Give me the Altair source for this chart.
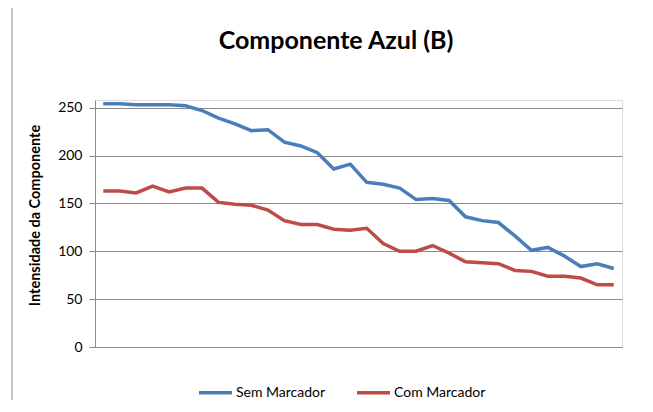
import altair as alt
import pandas as pd

chart_title = "Componente Azul (B)"
series_names = ["Sem Marcador", "Com Marcador"]
sem_marcador = [254, 254, 253, 253, 253, 252, 247, 239, 233, 226, 227, 214, 210, 203, 186, 191,
                172, 170, 166, 154, 155, 153, 136, 132, 130, 116, 101, 104, 95, 84, 87, 82]
com_marcador = [163, 163, 161, 168, 162, 166, 166, 151, 149, 148, 143, 132, 128, 128, 123, 122,
                124, 108, 100, 100, 106, 98, 89, 88, 87, 80, 79, 74, 74, 72, 65, 65]
y_ticks = [0, 50, 100, 150, 200, 250]
colors = ["#4a7ebb", "#be4b48"]

rows = []
for i, v in enumerate(sem_marcador):
    rows.append({"idx": i + 1, "valor": v, "serie": series_names[0]})
for i, v in enumerate(com_marcador):
    rows.append({"idx": i + 1, "valor": v, "serie": series_names[1]})
df = pd.DataFrame(rows)

FONT = "Lato"
n = len(sem_marcador)

lines = alt.Chart(df).mark_line(strokeWidth=3.5).encode(
    x=alt.X("idx:Q", scale=alt.Scale(domain=[0.5, n + 0.5], nice=False, zero=False),
            axis=alt.Axis(labels=False, ticks=False, grid=False, title=None,
                          domainColor="#8c8c8c", domainWidth=1)),
    y=alt.Y("valor:Q", scale=alt.Scale(domain=[0, 258], nice=False),
            axis=alt.Axis(values=y_ticks, title="Intensidade da Componente",
                          titleFont=FONT, titleFontSize=14.5, titleFontWeight="bold",
                          titleColor="#000000", titleX=-60, titleY=115,
                          titleAngle=-90, titleBaseline="middle",
                          labelFont=FONT, labelFontSize=14, labelColor="#000000",
                          labelPadding=7, tickSize=6, tickColor="#8c8c8c",
                          domainColor="#8c8c8c", gridColor="#8c8c8c", gridWidth=1)),
    color=alt.Color("serie:N", scale=alt.Scale(domain=series_names, range=colors),
                    sort=series_names,
                    legend=alt.Legend(title=None, orient="none", direction="horizontal",
                                      legendX=102, legendY=274,
                                      symbolType="stroke", symbolSize=1089,
                                      symbolStrokeWidth=3.5, labelFont=FONT,
                                      labelFontSize=14, labelColor="#000000",
                                      labelOffset=2, columnPadding=24, padding=0)),
    order=alt.Order("idx:Q"),
)

title_text = alt.Chart(pd.DataFrame({"t": [chart_title]})).mark_text(
    font=FONT, fontSize=25, fontWeight="bold", color="#000000",
    align="center", baseline="alphabetic"
).encode(text="t:N", x=alt.value(241), y=alt.value(-51))

border = alt.Chart(pd.DataFrame({"a": [0]})).mark_rule(color="#8c8c8c", strokeWidth=1).encode(
    x=alt.value(-83), y=alt.value(-100), y2=alt.value(320)
)

chart = alt.layer(lines, title_text, border).properties(
    width=527, height=247,
    autosize=alt.AutoSizeParams(type="none"),
    padding={"left": 87, "top": 92, "right": 20, "bottom": 53},
).configure_view(stroke=None).configure(background="#ffffff")

chart.save("out.html", embed_options={"renderer": "svg", "actions": False})
